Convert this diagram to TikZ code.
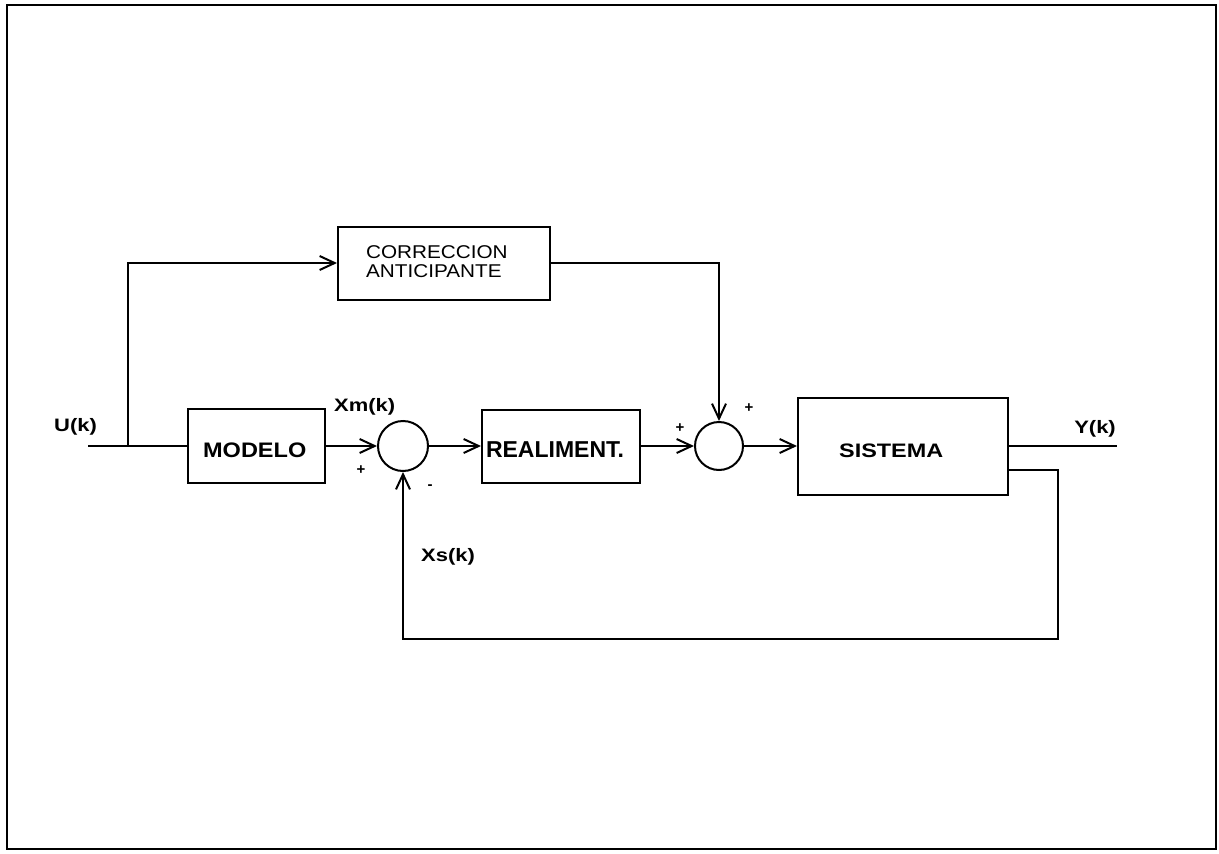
\documentclass[tikz,border=0pt]{standalone}
\usepackage{fontspec}
\setmainfont{Liberation Sans}
\usetikzlibrary{arrows.meta}
\begin{document}
\begin{tikzpicture}[x=1pt,y=-1pt,
  line width=2pt,
  blk/.style={draw,line width=2pt,inner sep=0pt,rectangle},
  sumc/.style={draw,circle,line width=2pt,inner sep=0pt,minimum size=50pt},
  arr/.style={-{Straight Barb[length=15pt,width=14pt,line width=2pt]}},
  lbl/.style={font=\fontsize{18}{18}\bfseries\selectfont,inner sep=0pt,xscale=1.22},
  btxt/.style={font=\fontsize{21}{21}\bfseries\selectfont,inner sep=0pt},
  ctxt/.style={anchor=base west,inner sep=0pt,font=\fontsize{18.5}{18.5}\selectfont,xscale=1.12},
  sgn/.style={font=\fontsize{15}{15}\bfseries\selectfont,inner sep=0pt}]
\useasboundingbox (0,0) rectangle (1219,854);
\draw[line width=2.5pt] (7,5) rectangle (1216,849);
% blocks
\node[blk,minimum width=137pt,minimum height=74pt] (modelo) at (256.5,446) {};
\node[btxt,anchor=base west,xscale=1.12] (tmodelo) at (202,457) {MODELO};
\node[sumc] (sum1) at (403,446) {};
\node[blk,minimum width=158pt,minimum height=73pt] (realim) at (561,446) {};
\node[btxt,anchor=base west,font=\fontsize{23}{23}\bfseries\selectfont] (trealim) at (485,457) {REALIMENT.};
\node[sumc,minimum size=48pt] (sum2) at (719,446) {};
\node[blk,minimum width=210pt,minimum height=97pt] (sistema) at (903,446) {};
\node[btxt,anchor=base west,xscale=1.2,font=\fontsize{19.5}{19.5}\bfseries\selectfont] (tsistema) at (838,457) {SISTEMA};
\node[blk,minimum width=212pt,minimum height=73pt] (corr) at (444,263) {};
\node[ctxt] (tcorr1) at (365,258) {CORRECCION};
\node[ctxt] (tcorr2) at (365,277) {ANTICIPANTE};
% coordinates
\coordinate (uin) at (88,446);
\coordinate (br) at (128,446);
\coordinate (yout) at (1117,446);
\coordinate (fb1) at ([yshift=-24pt]sistema.east);
\coordinate (fb2) at (1058,639);
% connectors
\draw (uin) -- (modelo.west);
\draw[arr] (br) |- (corr.west);
\draw[arr] (corr.east) -| (sum2.north);
\draw[arr] (modelo.east) -- (sum1.west);
\draw[arr] (sum1.east) -- (realim.west);
\draw[arr] (realim.east) -- (sum2.west);
\draw[arr] (sum2.east) -- (sistema.west);
\draw (sistema.east) -- (yout);
\draw[arr] (fb1) -| (fb2) -| (sum1.south);
% labels
\node[lbl,anchor=base west] (lu) at (53,431) {U(k)};
\node[lbl,anchor=base west] (lxm) at (333,411) {Xm(k)};
\node[lbl,anchor=base west] (lxs) at (420,561) {Xs(k)};
\node[lbl,anchor=base east] (ly) at (1117,433) {Y(k)};
\node[sgn] (p1) at (361,470) {+};
\node[sgn] (m1) at (430,487) {-};
\node[sgn] (p2) at (680,428) {+};
\node[sgn] (p3) at (749,408) {+};
\end{tikzpicture}
\end{document}
